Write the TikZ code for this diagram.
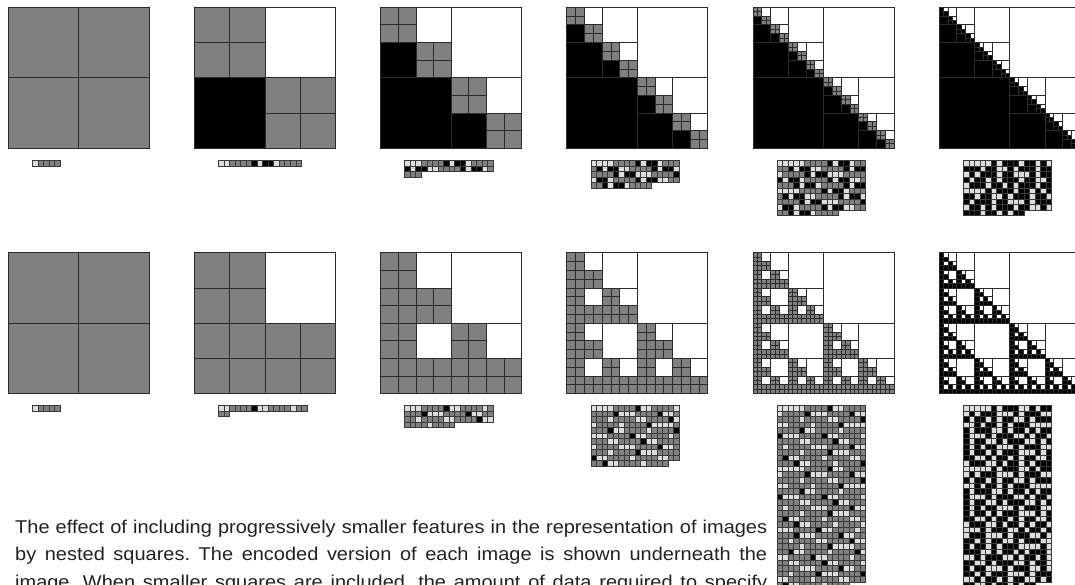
\documentclass[tikz,border=0pt]{standalone}
\usepackage{fontspec}
\setmainfont{Liberation Sans}[FakeStretch=1.08]
\definecolor{qgray}{HTML}{808080}
\definecolor{qline}{HTML}{2B2B2B}
\definecolor{elight}{HTML}{DDDDDD}
\definecolor{eline}{HTML}{3A3A3A}
\definecolor{captxt}{HTML}{222222}
\tikzset{
  qcell/.style={draw=qline, line width=0.9pt},
  ecell/.style={draw=eline, line width=0.55pt},
  captext/.style={font=\fontsize{18.5pt}{22pt}\selectfont\frenchspacing, text=captxt, inner sep=0pt, anchor=base west}
}
\newcount\enci
\def\maxn{1}
\newif\iffullres
\gdef\enc{}
\def\addenc#1{\xdef\enc{\enc#1}}
\def\qleaf#1#2#3#4{\filldraw[qcell,fill=#4] (#1,#2) rectangle ++(#3,-#3);}
\def\qnode#1#2#3#4#5{\begingroup\edef\qtmp{\noexpand\qnodeX{#1}{#2}{#3}{#4}{#5}}\qtmp\endgroup}
\def\qnodeX#1#2#3#4#5{%
  \if#5W\addenc{KL}\qleaf{#1}{#2}{#3}{white}\fi
  \if#5B\addenc{KK}\qleaf{#1}{#2}{#3}{black}\fi
  \if#5T\qsplit{#1}{#2}{#3}{#4}{T}{W}{B}{T}\fi
  \if#5S\qsplit{#1}{#2}{#3}{#4}{S}{W}{S}{S}\fi}
\def\qsplit#1#2#3#4#5#6#7#8{%
  \addenc{L}%
  \pgfmathsetmacro\qh{#3/2}%
  \pgfmathsetmacro\qxr{#1+\qh}%
  \pgfmathsetmacro\qyb{#2-\qh}%
  \pgfmathtruncatemacro\qd{#4+1}%
  \ifnum\qd<\maxn\relax
    \qnode{#1}{#2}{\qh}{\qd}{#5}%
    \qnode{\qxr}{#2}{\qh}{\qd}{#6}%
    \qnode{#1}{\qyb}{\qh}{\qd}{#7}%
    \qnode{\qxr}{\qyb}{\qh}{\qd}{#8}%
  \else
    \iffullres
      \addenc{KLKK}%
      \qleaf{#1}{#2}{\qh}{black}\qleaf{\qxr}{#2}{\qh}{white}%
      \qleaf{#1}{\qyb}{\qh}{black}\qleaf{\qxr}{\qyb}{\qh}{black}%
    \else
      \addenc{GGGG}%
      \qleaf{#1}{#2}{\qh}{qgray}\qleaf{\qxr}{#2}{\qh}{qgray}%
      \qleaf{#1}{\qyb}{\qh}{qgray}\qleaf{\qxr}{\qyb}{\qh}{qgray}%
    \fi
  \fi}
\def\drawenc#1#2{%
  \global\enci=0
  \pgfmathsetmacro\ex{#1}\pgfmathsetmacro\ey{#2}%
  \expandafter\encloop\enc\relax}
\def\encloop#1{\ifx#1\relax\else\enccell#1\expandafter\encloop\fi}
\def\enccell#1{%
  \pgfmathtruncatemacro\ec{mod(\the\enci,16)}%
  \pgfmathtruncatemacro\er{div(\the\enci,16)}%
  \if#1L\def\efc{elight}\fi
  \if#1G\def\efc{qgray}\fi
  \if#1K\def\efc{black}\fi
  \filldraw[ecell,fill=\efc] (\ex+\ec*5.52,\ey-\er*5.52) rectangle ++(5.52,-5.52);
  \global\advance\enci by 1\relax}
\begin{document}
\begin{tikzpicture}[x=1pt,y=1pt]
\useasboundingbox (0,0) rectangle (1075,-584);
\fill[white] (0,0) rectangle (1075,-584);
\clip (0,0) rectangle (1075,-584);
\foreach \n in {1,...,6}{%
  \ifnum\n=6 \xdef\maxn{5}\global\fullrestrue\else\xdef\maxn{\n}\global\fullresfalse\fi
  \pgfmathsetmacro\px{8.3+186.2*(\n-1)}%
  \gdef\enc{}%
  \qnode{\px}{-7.3}{141}{0}{T}%
  \drawenc{\px+24}{-160.3}%
  \gdef\enc{}%
  \qnode{\px}{-252.7}{141}{0}{S}%
  \drawenc{\px+24}{-405.5}%
}
\node[captext] (cap1) at (15,-533.3) {\makebox[752pt][s]{The effect of including progressively smaller features in the representation of images}};
\node[captext] (cap2) at (15,-560.8) {\makebox[752pt][s]{by nested squares. The encoded version of each image is shown underneath the}};
\node[captext] (cap3) at (15,-588.3) {\makebox[752pt][s]{image. When smaller squares are included, the amount of data required to specify}};
\end{tikzpicture}
\end{document}
